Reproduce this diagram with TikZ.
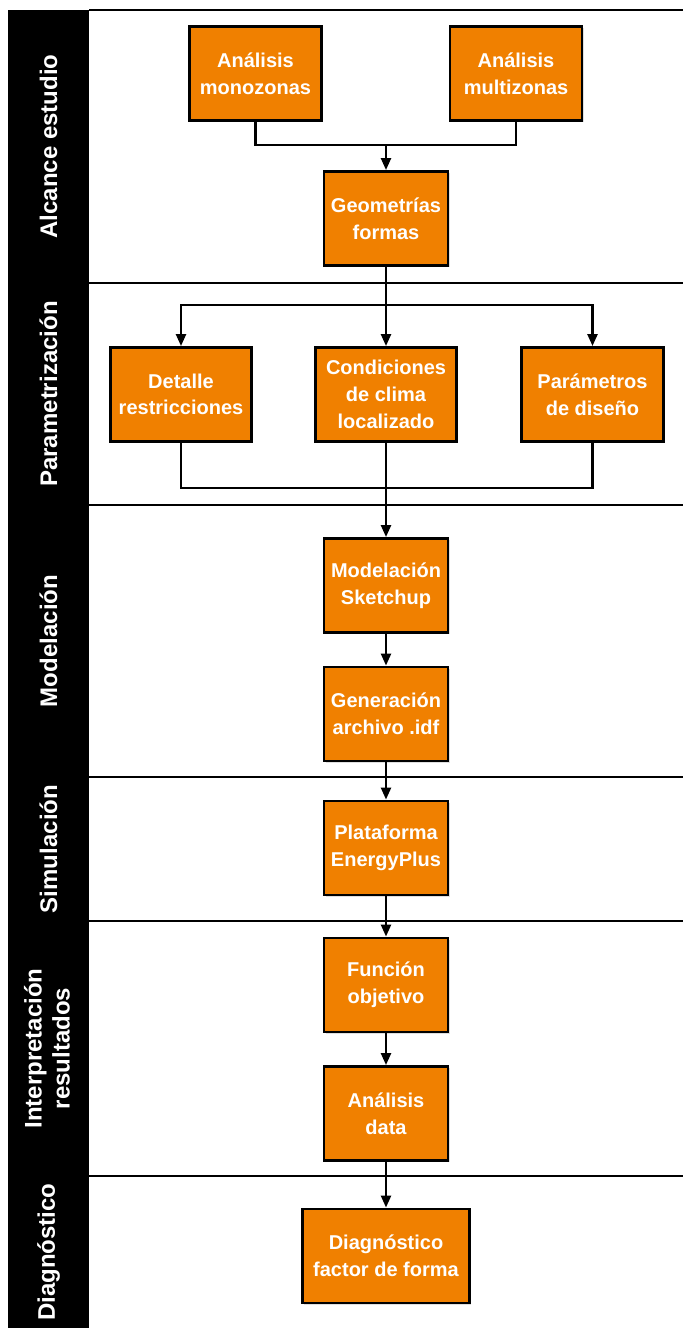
\documentclass[tikz,border=0pt]{standalone}
\usepackage{fontspec}
\setmainfont{Liberation Sans}
\usetikzlibrary{arrows.meta,shadows}
\definecolor{naranja}{RGB}{240,128,0}
\tikzset{
  paso/.style={draw=black, line width=2.2pt, fill=naranja, text=white,
    font=\bfseries\fontsize{15}{20}\selectfont, align=center,
    minimum width=#1, minimum height=70.5pt, inner sep=1pt,
    drop shadow={opacity=0.25, shadow xshift=1.2pt, shadow yshift=-1.2pt}},
  paso/.default=93pt,
  carril/.style={text=white, font=\bfseries\fontsize{18}{21}\selectfont, rotate=90, align=center},
  flecha/.style={line width=1.8pt, -{Triangle[length=9pt,width=7.5pt]}},
  linea/.style={line width=1.8pt},
  separa/.style={line width=1.7pt},
}

\begin{document}
\begin{tikzpicture}[x=0.75pt, y=-0.75pt]
            \useasboundingbox (0,0) rectangle (683,1330);

            % Define the black band and the lane lines
            \fill[black] (8,10) rectangle (89,1328);
            \foreach \y in {10,283,505,777,921,1176} {
                \draw[separa] (89,\y) -- (683,\y);
            }

            % Lane titles
            \node[carril] (l1) at (48.5,146.5) {Alcance estudio};
            \node[carril] (l2) at (48.5,394) {Parametrización};
            \node[carril] (l3) at (48.5,641) {Modelación};
            \node[carril] (l4) at (48.5,849) {Simulación};
            \node[carril] (l5) at (47,1048.5) {Interpretación\\resultados};
            \node[carril] (l6) at (48.5,1252) {Diagnóstico};

            % Steps of the process
            \node[paso=99pt] (mono) at (255.5,73.5) {Análisis\\monozonas};
            \node[paso=99pt] (multi) at (516,73.5) {Análisis\\multizonas};
            \node[paso] (geo) at (386,218.5) {Geometrías\\formas};
            \node[paso=106pt] (detalle) at (181,394.5) {Detalle\\restricciones};
            \node[paso=106pt] (cond) at (386,394.5) {Condiciones\\de clima\\localizado};
            \node[paso=106pt] (param) at (592.5,394.5) {Parámetros\\de diseño};
            \node[paso] (model) at (386,585.5) {Modelación\\Sketchup};
            \node[paso] (gen) at (386,714) {Generación\\archivo .idf};
            \node[paso] (plat) at (386,848) {Plataforma\\EnergyPlus};
            \node[paso] (func) at (386,985) {Función\\objetivo};
            \node[paso] (anal) at (386,1113.5) {Análisis\\data};
            \node[paso=125pt] (diag) at (386,1256) {Diagnóstico\\factor de forma};

            % Joins and branches
            \coordinate (j1) at (386,145);
            \coordinate (j2) at (386,305);
            \coordinate (j3) at (386,488);

            \draw[linea] (mono.south) |- (j1) -| (multi.south);
            \draw[flecha] (j1) -- (geo.north);
            \draw[linea] (geo.south) -- (j2);
            \draw[flecha] (j2) -| (detalle.north);
            \draw[flecha] (j2) -- (cond.north);
            \draw[flecha] (j2) -| (param.north);
            \draw[linea] (detalle.south) |- (j3) -| (param.south);
            \draw[linea] (cond.south) -- (j3);
            \draw[flecha] (j3) -- (model.north);

            % Straight chain down the middle
            \draw[flecha] (model) -- (gen);
            \draw[flecha] (gen) -- (plat);
            \draw[flecha] (plat) -- (func);
            \draw[flecha] (func) -- (anal);
            \draw[flecha] (anal) -- (diag);
        \end{tikzpicture}
\end{document}
